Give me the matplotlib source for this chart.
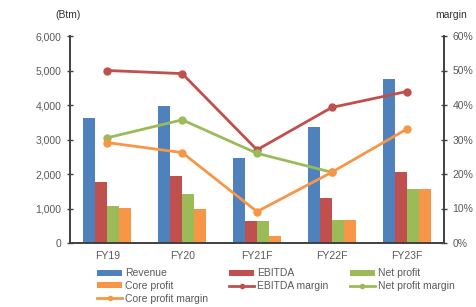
import matplotlib.pyplot as plt
import numpy as np
from matplotlib.ticker import FuncFormatter

plt.rcParams['font.family'] = ['Liberation Sans', 'DejaVu Sans']

years = ['FY19', 'FY20', 'FY21F', 'FY22F', 'FY23F']
revenue = [3620, 3980, 2460, 3370, 4750]
ebitda = [1780, 1950, 640, 1310, 2070]
net_profit = [1070, 1410, 640, 680, 1560]
core_profit = [1020, 1000, 200, 680, 1560]

ebitda_margin = [50.0, 49.1, 27.0, 39.3, 43.9]
net_margin = [30.5, 35.7, 26.0, 20.5]
core_margin = [29.1, 26.2, 9.1, 20.5, 33.0]

c_blue = '#4F81BD'
c_red = '#C0504D'
c_green = '#9BBB59'
c_orange = '#F79646'
axis_col = '#404040'
txt_col = '#595959'

fig = plt.figure(figsize=(4.77, 3.07), dpi=100)
ax = fig.add_axes([70 / 477, 1 - 243 / 307, (444 - 70) / 477, (243 - 36) / 307])
ax2 = ax.twinx()

x = np.arange(len(years))
w = 0.16
ax.bar(x - 1.5 * w, revenue, w, color=c_blue, label='Revenue')
ax.bar(x - 0.5 * w, ebitda, w, color=c_red, label='EBITDA')
ax.bar(x + 0.5 * w, net_profit, w, color=c_green, label='Net profit')
ax.bar(x + 1.5 * w, core_profit, w, color=c_orange, label='Core profit')

ax2.plot(x, ebitda_margin, color=c_red, lw=2, marker='o', ms=5, label='EBITDA margin')
ax2.plot(x[:len(net_margin)], net_margin, color=c_green, lw=2, marker='o', ms=5, label='Net profit margin')
ax2.plot(x, core_margin, color=c_orange, lw=2, marker='o', ms=5, label='Core profit margin')

ax.set_xlim(-0.5, len(years) - 0.5)
ax.set_ylim(0, 6000)
ax.set_yticks(range(0, 6001, 1000))
ax.yaxis.set_major_formatter(FuncFormatter(lambda v, p: f'{int(v):,}'))
ax2.set_ylim(0, 60)
ax2.set_yticks(range(0, 61, 10))
ax2.yaxis.set_major_formatter(FuncFormatter(lambda v, p: f'{int(v)}%'))
ax.set_xticks(x)
ax.set_xticklabels(years)

for a in (ax, ax2):
    a.spines['top'].set_visible(False)
    for s in ('left', 'right', 'bottom'):
        a.spines[s].set_color(axis_col)
        a.spines[s].set_linewidth(1.2)
    a.tick_params(axis='y', direction='inout', length=5, width=1, colors=axis_col,
                  labelcolor=txt_col, labelsize=7.5)
ax.tick_params(axis='x', length=0, labelsize=7.5, labelcolor=txt_col, pad=6)

fig.text(68 / 477, 1 - 15 / 307, '(Btm)', ha='center', va='center', fontsize=7.5, color='#333333')
fig.text(451 / 477, 1 - 15 / 307, 'margin', ha='center', va='center', fontsize=7.5, color='#333333')

h1, l1 = ax.get_legend_handles_labels()
h2, l2 = ax2.get_legend_handles_labels()
handles = h1 + h2
labels = l1 + l2
# legend fills column by column; this gives the Excel row layout
order = [0, 3, 6, 1, 4, 2, 5]
leg = fig.legend([handles[i] for i in order], [labels[i] for i in order],
                 loc='upper left', bbox_to_anchor=(88 / 477, 1 - 259 / 307), ncol=3,
                 frameon=False, fontsize=7.5, handlelength=2.4, handleheight=0.5,
                 columnspacing=2.0, labelspacing=0.25, handletextpad=0.3,
                 labelcolor=txt_col, markerscale=0.6)
plt.savefig('out.png', dpi=100)
